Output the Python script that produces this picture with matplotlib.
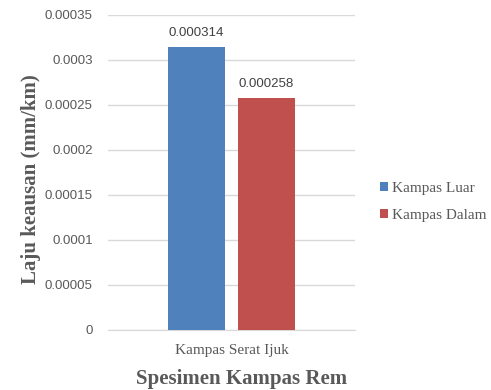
import matplotlib.pyplot as plt
import numpy as np

kategori = ['Kampas Serat Ijuk']
seri = ['Kampas Luar', 'Kampas Dalam']
nilai = [0.000314, 0.000258]
label_nilai = ['0.000314', '0.000258']
warna = ['#4f81bd', '#c0504d']
yticks = [0, 0.00005, 0.0001, 0.00015, 0.0002, 0.00025, 0.0003, 0.00035]
ytick_label = ['0', '0.00005', '0.0001', '0.00015', '0.0002', '0.00025', '0.0003', '0.00035']

abu = '#595959'

fig = plt.figure(figsize=(4.91, 3.9), dpi=100)
ax = fig.add_axes([0.22, 0.154, 0.503, 0.808])

lebar = 0.231
posisi = [-0.142, 0.142]
for i in range(len(seri)):
    ax.bar(posisi[i], nilai[i], width=lebar, color=warna[i], label=seri[i], zorder=3)
    ax.text(posisi[i], nilai[i] + 0.000009, label_nilai[i], ha='center', va='bottom',
            fontsize=9.5, color='#404040', family='Liberation Sans')

ax.set_xlim(-0.5, 0.5)
ax.set_ylim(0, 0.00035)
ax.set_yticks(yticks)
ax.set_yticklabels(ytick_label, family='Liberation Sans', fontsize=9.5, color=abu)
ax.set_xticks([0])
ax.set_xticklabels(kategori, family='Liberation Serif', fontsize=11, color=abu)
ax.tick_params(axis='y', length=0, pad=11)
ax.tick_params(axis='x', length=0, pad=10)
ax.grid(axis='y', color='#d9d9d9', linewidth=1, zorder=0)
for s in ['top', 'right', 'left']:
    ax.spines[s].set_visible(False)
ax.spines['bottom'].set_color('#d9d9d9')

ax.set_xlabel('Spesimen Kampas Rem', family='Liberation Serif', fontweight='bold',
              fontsize=15, color=abu)
ax.xaxis.set_label_coords(0.54, -0.125)
ax.set_ylabel('Laju keausan (mm/km)', family='Liberation Serif', fontweight='bold',
              fontsize=15, color=abu)
ax.yaxis.set_label_coords(-0.27, 0.48)

ax.legend(loc='center left', bbox_to_anchor=(380 / 491, 1 - 202 / 390),
          bbox_transform=fig.transFigure, frameon=False, borderpad=0, borderaxespad=0,
          prop={'family': 'Liberation Serif', 'size': 11}, handlelength=0.55,
          handleheight=0.55, handletextpad=0.25, labelspacing=0.95, labelcolor=abu)

fig.savefig('out.png', dpi=100)
